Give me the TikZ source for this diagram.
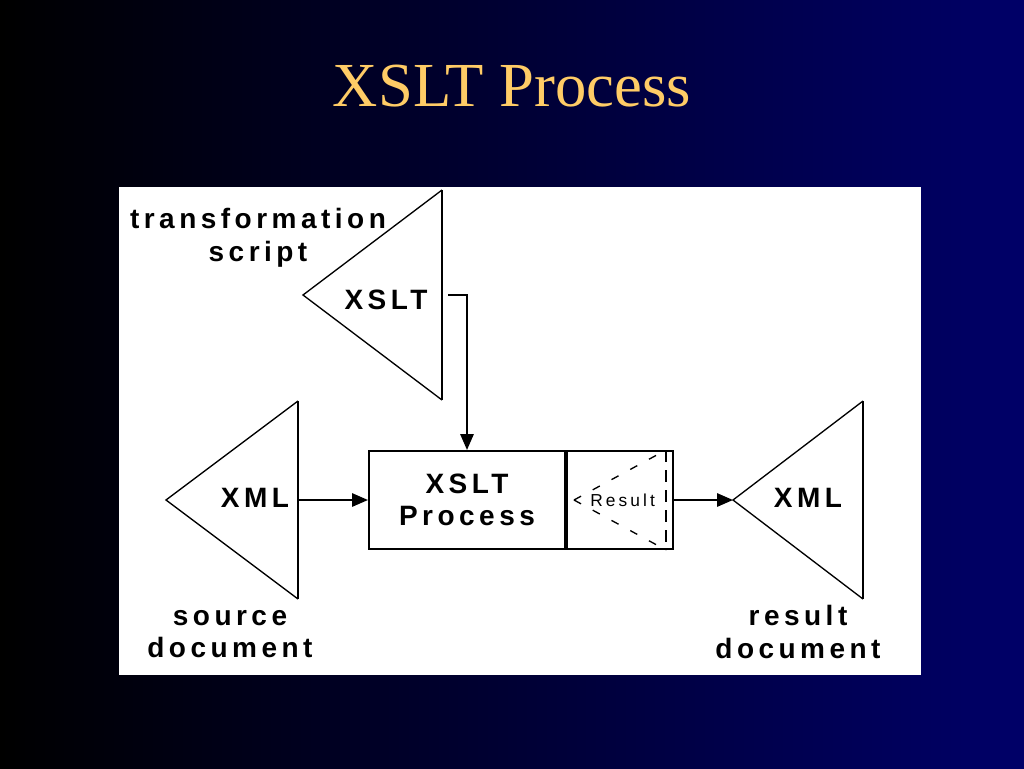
\documentclass[tikz,border=0pt]{standalone}
\usepackage{fontspec}
\setmainfont{Liberation Serif}
\newfontfamily\diagramFont[LetterSpace=16]{Liberation Sans}
\newfontfamily\screenFont[LetterSpace=18]{Liberation Sans}
\usetikzlibrary{positioning, arrows.meta}
\definecolor{slideBlue}{RGB}{0,0,104}
\definecolor{titleColor}{RGB}{255,204,102}
\tikzstyle{slide} = [x = .75pt, y = -.75pt]
\tikzstyle{panelStyle} = [fill=white]
\tikzstyle{triangleDiag} = [line width=1pt, line join=miter]
\tikzstyle{triangleSide} = [line width=1.6pt]
\tikzstyle{diagramText} = [font=\diagramFont\bfseries\fontsize{21}{24.5}\selectfont, align=center, inner sep=0pt]
\tikzstyle{processBox} = [draw, line width=1.5pt, minimum width=147pt, minimum height=73.5pt, inner sep=0pt]
\tikzstyle{connector} = [line width=1.5pt, -{Triangle[length=12pt, width=10pt]}]
\tikzstyle{ray} = [line width=1pt, dash pattern=on 6pt off 10pt]
\newcommand{\docTriangle}[5]{
  \draw [triangleDiag] (#3, #4 - #5) -- (#2, #4) -- (#3, #4 + #5);
  \draw [triangleSide] (#3, #4 - #5) -- (#3, #4 + #5);
  \coordinate (#1Apex) at (#2, #4);
  \coordinate (#1Side) at (#3, #4);
}
\begin{document}
\begin{tikzpicture}[slide]
  \useasboundingbox (0,0) rectangle (1024,768);
  \shade [left color=black, right color=slideBlue] (0,0) rectangle (1024,768);
  \node (title) [anchor=base, text=titleColor, font=\fontsize{47}{50}\selectfont, inner sep=0pt] at (512,106) {XSLT Process};
  \fill [panelStyle] (119,187) rectangle (921,675);

  % documents
  \docTriangle{xslt}{303}{442}{295}{105}
  \docTriangle{source}{166}{298}{500}{99}
  \docTriangle{result}{733}{863}{500}{99}
  \node (xsltText) [diagramText] at (386,300) {XSLT};
  \node (sourceText) [diagramText] at (255,498) {XML};
  \node (resultText) [diagramText] at (808,498) {XML};

  % processor and its result screen
  \node (proc) [processBox, diagramText] at (467,500) {XSLT\\Process};
  \node (screen) [processBox, minimum width=79.5pt, right=0pt of proc] {};
  \coordinate (rayTip) at ([xshift=6pt]screen.west);
  \coordinate (screenTop) at ([xshift=-6pt]screen.north east);
  \coordinate (screenBottom) at ([xshift=-6pt]screen.south east);
  \draw [ray] (rayTip) -- (screenTop);
  \draw [ray] (rayTip) -- (screenBottom);
  \draw [line width=1.2pt, dash pattern=on 9pt off 6pt] (screenTop) -- (screenBottom);
  \node (screenText) [font=\screenFont\fontsize{13}{15}\selectfont, fill=white, inner sep=1pt] at ([xshift=2pt]screen.center) {Result};

  \draw [connector] ([xshift=4.5pt]xsltSide) -| (proc.north);
  \draw [connector] (sourceSide) -- (proc.west);
  \draw [connector] (screen.east) -- (resultApex);

  \node (scriptLabel) [diagramText] at (258,238) {transformation\\script};
  \node (sourceLabel) [diagramText] at (230,634) {source\\document};
  \node (resultLabel) [diagramText] at (798,632) {result\\document};
\end{tikzpicture}
\end{document}
